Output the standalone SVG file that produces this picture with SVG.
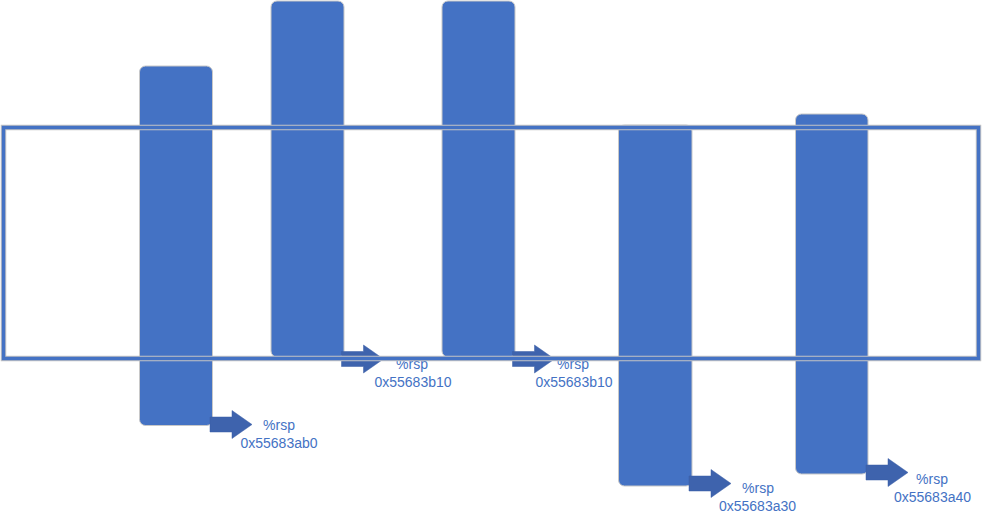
<svg xmlns="http://www.w3.org/2000/svg" width="983" height="524" viewBox="0 0 983 524">
<defs>
<style>
.bar{fill:#4472C4;stroke:#C8C8C8;stroke-width:1}
.arr{fill:#3E63AD;stroke:#3A5EA6;stroke-width:0.5}
.lbl{font-family:"Liberation Sans",Arial,sans-serif;font-size:14px;fill:#4472C4;text-anchor:middle}
.frameEdge{fill:none;stroke:#C4C4C4;stroke-width:5.5}
.frame{fill:none;stroke:#4472C4;stroke-width:3.5}
</style>
<path id="ar" d="M0,-7.5 H22 V-14 L42,0 L22,14 V7.5 H0 Z"/>
</defs>
<rect width="983" height="524" fill="#FFFFFF"/>
<g id="bar1"><rect class="bar" x="139.5" y="66" width="73" height="359.5" rx="6"/></g>
<g id="bar2"><rect class="bar" x="271" y="1" width="73" height="356" rx="6"/></g>
<g id="bar3"><rect class="bar" x="442" y="1" width="73" height="356" rx="6"/></g>
<g id="bar4"><rect class="bar" x="618.5" y="125" width="73.5" height="361" rx="6"/></g>
<g id="bar5"><rect class="bar" x="795.5" y="114" width="72.5" height="360" rx="6"/></g>
<g id="connectors">
<use href="#ar" class="arr" x="210" y="424.5"/>
<use href="#ar" class="arr" x="341.5" y="359"/>
<use href="#ar" class="arr" x="512.5" y="359"/>
<use href="#ar" class="arr" x="689" y="483.5"/>
<use href="#ar" class="arr" x="866" y="472.5"/>
</g>
<g id="label1"><text class="lbl" x="279" y="429.5">%rsp</text><text class="lbl" x="279" y="448">0x55683ab0</text></g>
<g id="label2"><text class="lbl" x="412" y="368.5">%rsp</text><text class="lbl" x="413" y="386.5">0x55683b10</text></g>
<g id="label3"><text class="lbl" x="573" y="368.5">%rsp</text><text class="lbl" x="574" y="386.5">0x55683b10</text></g>
<g id="label4"><text class="lbl" x="758" y="492.5">%rsp</text><text class="lbl" x="757.5" y="510.5">0x55683a30</text></g>
<g id="label5"><text class="lbl" x="932" y="483.5">%rsp</text><text class="lbl" x="932.5" y="502">0x55683a40</text></g>
<g id="frame">
<rect class="frameEdge" x="3.5" y="127.5" width="975" height="231"/>
<rect class="frame" x="3.5" y="127.5" width="975" height="231"/>
</g>
</svg>
